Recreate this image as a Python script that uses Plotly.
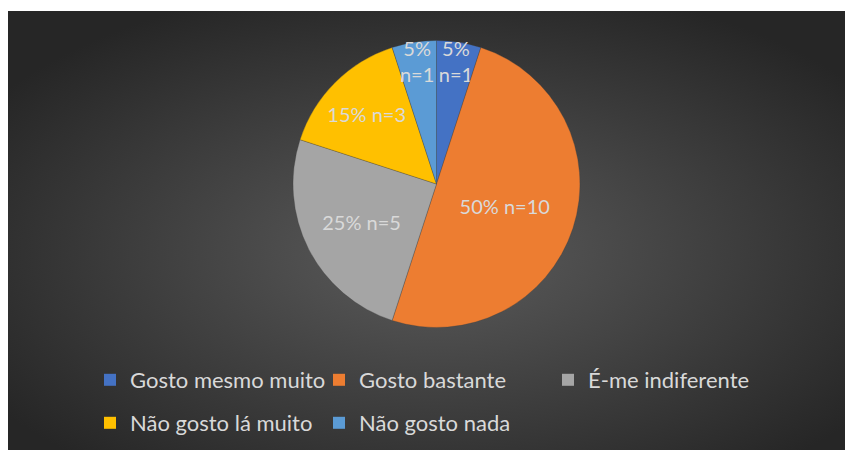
import base64
import plotly.graph_objects as go

labels = ["Gosto mesmo muito", "Gosto bastante", "É-me indiferente", "Não gosto lá muito", "Não gosto nada"]
values = [1, 10, 5, 3, 1]
colors = ["#4472C4", "#ED7D31", "#A5A5A5", "#FFC000", "#5B9BD5"]

total = sum(values)
texts = []
for v in values:
    pct = round(v / total * 100)
    sep = "<br>" if pct < 10 else " "
    texts.append(f"{pct}%{sep}n={v}")

W, H = 853, 450
FONT = "Lato, 'Open Sans', sans-serif"
TXT = "#D9D9D9"

svg = (
    '<svg xmlns="http://www.w3.org/2000/svg" width="853" height="447">'
    '<defs><radialGradient id="g" cx="50%" cy="54%" r="62%">'
    '<stop offset="0%" stop-color="#5c5c5c"/>'
    '<stop offset="100%" stop-color="#262626"/>'
    '</radialGradient></defs>'
    '<rect width="853" height="447" fill="url(#g)"/></svg>'
)
bg_src = "data:image/svg+xml;base64," + base64.b64encode(svg.encode()).decode()

fig = go.Figure()
fig.add_trace(go.Pie(
    labels=labels, values=values, text=texts,
    textinfo="text", textposition="inside", insidetextorientation="horizontal",
    sort=False, direction="clockwise", rotation=0,
    marker=dict(colors=colors, line=dict(color="rgba(60,60,60,0.5)", width=0.6)),
    textfont=dict(family=FONT, size=20, color=TXT),
    domain=dict(x=[285 / W, 572 / W], y=[1 - 319.5 / H, 1 - 32.5 / H]),
    showlegend=False, hoverinfo="label+percent",
))

for i, (lab, col) in enumerate(zip(labels, colors)):
    fig.add_trace(go.Scatter(
        x=[None], y=[None], mode="markers", name=lab,
        marker=dict(symbol="square", size=12, color=col),
        legend="legend" if i < 3 else "legend2",
    ))

leg_common = dict(
    orientation="h", xanchor="left", yanchor="middle",
    font=dict(family=FONT, size=22, color=TXT),
    bgcolor="rgba(0,0,0,0)", entrywidth=184, entrywidthmode="pixels",
    itemclick=False, itemdoubleclick=False,
)

fig.update_layout(
    width=W, height=H,
    margin=dict(l=0, r=0, t=0, b=0),
    paper_bgcolor="white", plot_bgcolor="rgba(0,0,0,0)",
    xaxis=dict(visible=False), yaxis=dict(visible=False),
    legend=dict(x=82 / W, y=1 - 372 / H, **leg_common),
    legend2=dict(x=82 / W, y=1 - 415 / H, **leg_common),
    images=[dict(source=bg_src, xref="paper", yref="paper",
                 x=0, y=1 - 3 / H, sizex=1, sizey=447 / H,
                 xanchor="left", yanchor="top", sizing="stretch", layer="below")],
    uniformtext=dict(minsize=20, mode="show"),
)

fig.write_html("out.html")
